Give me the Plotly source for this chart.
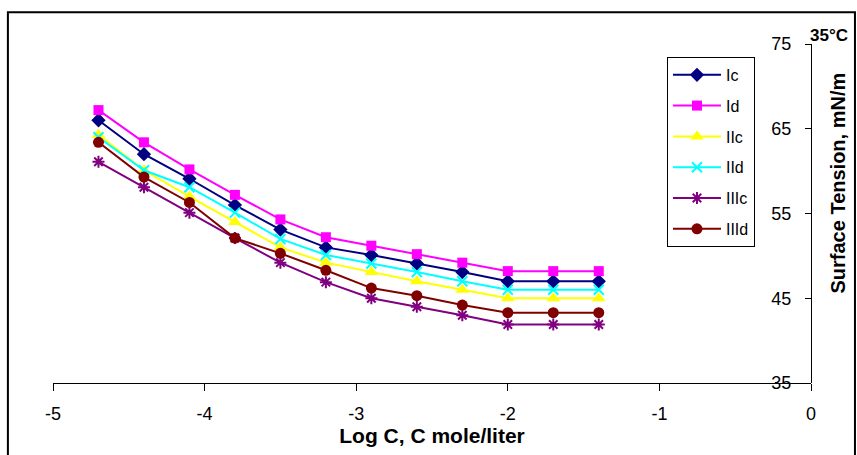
import plotly.graph_objects as go

log_c = [-4.7, -4.4, -4.1, -3.8, -3.5, -3.2, -2.9, -2.6, -2.3, -2.0, -1.7, -1.4]

Ic = [66, 62, 59.1, 56, 53.1, 51, 50.1, 49.1, 48.1, 47, 47, 47]
Id = [67.2, 63.4, 60.2, 57.2, 54.3, 52.2, 51.2, 50.2, 49.2, 48.2, 48.2, 48.2]
IIc = [64.3, 60.1, 57, 54, 51, 49.2, 48.1, 47, 46, 45, 45, 45]
IId = [64, 60.1, 58.1, 55.1, 52, 50.1, 49.1, 48.1, 47, 46, 46, 46]
IIIc = [61.1, 58.1, 55.1, 52.1, 49.2, 46.9, 45, 44, 43, 41.9, 41.9, 41.9]
IIId = [63.4, 59.3, 56.3, 52.1, 50.3, 48.3, 46.2, 45.3, 44.2, 43.3, 43.3, 43.3]

series_names = ["Ic", "Id", "IIc", "IId", "IIIc", "IIId"]
series_vals = [Ic, Id, IIc, IId, IIIc, IIId]
colors = ["#000080", "#FF00FF", "#FFFF00", "#00FFFF", "#800080", "#800000"]
symbols = ["diamond", "square", "triangle-up", "x-thin", "asterisk", "circle"]
sizes = [11, 10, 12, 10, 10, 11]

x_ticks = [-5, -4, -3, -2, -1, 0]
y_ticks = [35, 45, 55, 65, 75]

FONT = "Liberation Sans, Arial, sans-serif"

fig = go.Figure()
for name, vals, col, sym, sz in zip(series_names, series_vals, colors, symbols, sizes):
    if sym in ("x-thin", "asterisk"):
        marker = dict(symbol=sym, size=sz, color=col, line=dict(color=col, width=2))
    else:
        marker = dict(symbol=sym, size=sz, color=col, line=dict(width=0))
    fig.add_trace(go.Scatter(
        x=log_c, y=vals, name=name, mode="lines+markers",
        line=dict(color=col, width=2), marker=marker, legendgroup=name,
    ))

fig.update_layout(
    width=857, height=455,
    margin=dict(l=53, r=46, t=44, b=72, autoexpand=False),
    paper_bgcolor="white", plot_bgcolor="white",
    font=dict(family=FONT, color="black"),
    showlegend=True,
    legend=dict(
        x=0.81, y=0.962, xanchor="left", yanchor="top",
        bgcolor="white", bordercolor="black", borderwidth=1,
        font=dict(size=16, family=FONT, color="black"), tracegroupgap=7,
        itemwidth=48,
    ),
    xaxis=dict(
        range=[-5, 0], tickvals=x_ticks, ticktext=[str(v) for v in x_ticks],
        showline=True, linecolor="black", linewidth=1,
        ticks="outside", ticklen=7, tickcolor="black",
        showgrid=False, zeroline=False, automargin=False,
        tickfont=dict(size=18, color="black"), ticklabelstandoff=7,
        title=dict(text="<b>Log C, C mole/liter</b>", font=dict(size=21, color="black"), standoff=4),
    ),
    yaxis=dict(
        range=[35, 75], tickvals=y_ticks, ticktext=[str(v) for v in y_ticks],
        anchor="free", position=1, side="left",
        showline=True, linecolor="black", linewidth=1,
        ticks="outside", ticklen=6, tickcolor="black",
        showgrid=False, zeroline=False, automargin=False,
        tickfont=dict(size=18, color="black"), ticklabelstandoff=10,
    ),
    shapes=[dict(
        type="rect", xref="paper", yref="paper",
        x0=-0.0595, x1=1.058, y0=-0.25, y1=1.094,
        line=dict(color="black", width=2), fillcolor="rgba(0,0,0,0)", layer="below",
    )],
    annotations=[
        dict(
            text="<b>35°C</b>", xref="paper", yref="paper",
            x=1.024, y=1.025, xanchor="center", yanchor="middle",
            showarrow=False, font=dict(size=17, color="black"),
        ),
        dict(
            text="<b>Surface Tension, mN/m</b>", xref="paper", yref="paper",
            x=1.035, y=0.59, xanchor="center", yanchor="middle", textangle=-90,
            showarrow=False, font=dict(size=20, color="black"),
        ),
    ],
)

fig.write_html("out.html", config={"displayModeBar": False},
               post_script="document.body.style.margin='0px';")
